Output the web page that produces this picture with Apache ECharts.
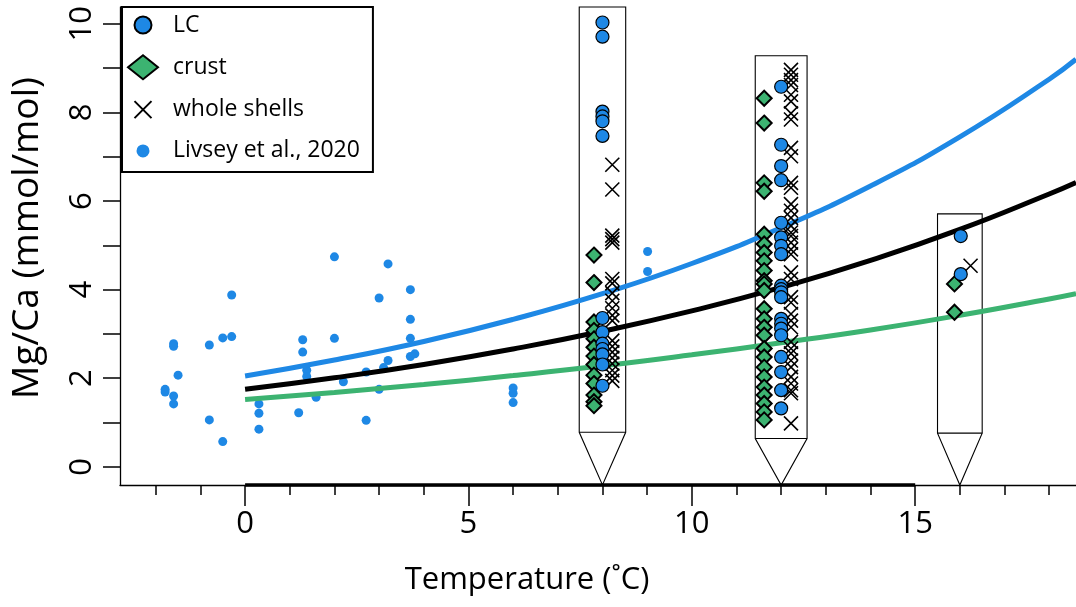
<!DOCTYPE html>
<html><head><meta charset="utf-8">
<script src="https://cdn.jsdelivr.net/npm/echarts@6/dist/echarts.min.js"></script>
<style>html,body{margin:0;padding:0;background:#fff}#c{width:1076px;height:607px}</style>
</head><body><div id="c"></div>
<script>
// ---- fitted curves ----
const curveT = [0, 2, 4, 6, 8, 10, 12, 14, 16, 18, 18.6];
const curveBlue = [2.05, 2.41, 2.83, 3.33, 3.91, 4.59, 5.40, 6.34, 7.45, 8.75, 9.20];
const curveBlack = [1.75, 2.01, 2.31, 2.66, 3.06, 3.52, 4.05, 4.66, 5.36, 6.16, 6.42];
const curveGreen = [1.52, 1.68, 1.86, 2.06, 2.28, 2.53, 2.80, 3.09, 3.42, 3.79, 3.91];

// ---- Livsey et al., 2020 ----
const livseyT = [-0.30,-1.60,-1.60,-0.80,-0.50,-0.30,-1.50,-1.79,-1.79,-1.60,-1.60,-0.80,-0.50,0.31,0.31,0.31,1.20,1.29,1.29,1.38,1.38,1.59,2.00,2.00,2.20,2.71,2.71,3.00,3.00,3.20,3.10,3.20,3.70,3.70,3.70,3.70,3.80,6.00,6.00,6.00,9.01,9.01];
const livseyV = [3.88,2.78,2.72,2.75,2.91,2.94,2.07,1.75,1.69,1.60,1.42,1.06,0.57,1.42,1.21,0.85,1.22,2.87,2.59,2.18,2.04,1.57,4.74,2.90,1.92,2.14,1.05,3.81,1.75,4.58,2.24,2.40,4.00,3.33,2.90,2.49,2.55,1.78,1.66,1.45,4.86,4.41];

// ---- culture temperatures (plotted x of each group) ----
const lcX = [8.0, 12.0, 16.02];
const crustX = [7.81, 11.62, 15.88];
const shellX = [8.22, 12.22, 16.24];

// ---- LC ----
const lcAt8 = [10.03, 9.71, 8.02, 7.91, 7.80, 7.47, 3.36, 3.04, 2.78, 2.66, 2.54, 2.31, 1.83];
const lcAt12 = [8.58, 7.27, 6.79, 6.47, 5.51, 5.18, 4.99, 4.80, 4.09, 4.01, 3.94, 3.83, 3.34, 3.23, 3.12, 2.97, 2.48, 2.14, 1.73, 1.32];
const lcAt16 = [5.21, 4.35];

// ---- crust ----
const crustAt8 = [4.78, 4.16, 3.27, 3.08, 2.89, 2.70, 2.50, 2.31, 2.07, 1.88, 1.62, 1.47, 1.38];
const crustAt12 = [8.32, 7.76, 6.41, 6.22, 5.25, 5.03, 4.84, 4.65, 4.43, 4.20, 4.13, 3.98, 3.57, 3.34, 3.15, 2.97, 2.67, 2.48, 2.25, 2.03, 1.80, 1.62, 1.43, 1.24, 1.06];
const crustAt16 = [4.13, 3.49];

// ---- whole shells ----
const shellAt8 = [6.82, 6.26, 5.22, 5.14, 5.06, 4.24, 4.14, 3.92, 3.75, 3.58, 3.42, 3.30, 2.85, 2.72, 2.59, 2.46, 2.33, 2.18, 2.06, 1.94];
const shellAt12 = [8.96, 8.85, 8.73, 8.62, 8.40, 8.25, 7.98, 7.84, 7.20, 7.01, 6.41, 6.30, 5.93, 5.78, 5.62, 5.44, 5.29, 5.21, 5.06, 4.91, 4.80, 4.39, 4.24, 3.83, 3.71, 3.45, 3.30, 3.15, 2.82, 2.67, 2.56, 2.40, 2.25, 2.03, 1.88, 1.73, 1.66, 0.98];
const shellAt16 = [4.54];

// ---- pencil-shaped ranges ----
const pencilT = [8, 12, 16];
const pencilTop = [10.38, 9.28, 5.71];
const pencilBottom = [0.78, 0.64, 0.76];
const pencilHalfWidth = [0.52, 0.58, 0.50];

// ---- ticks ----
const xMajorTicks = [0, 5, 10, 15];
const xMinorTicks = [-2,-1,0,1,2,3,4,5,6,7,8,9,10,11,12,13,14,15,16,17,18];
const yTicks = [0,1,2,3,4,5,6,7,8,9,10];
const yLabels = [0,2,4,6,8,10];

const X_MIN = -2.8, X_MAX = 18.6, Y_MIN = -0.41, Y_MAX = 10.38;
const BLUE = '#1e88e5', GREEN = '#3cb371', FONT = 'Open Sans';

function zip(xs, vs) { return vs.map((v, i) => [xs[i], v]); }
function group(xPos, cols) { const out = []; cols.forEach((c, i) => c.forEach(v => out.push([xPos[i], v]))); return out; }

const pencilData = pencilT.map((t, i) => [t, pencilTop[i], pencilBottom[i], pencilHalfWidth[i]]);

const chart = echarts.init(document.getElementById('c'));
const axisFont = { fontFamily: FONT, color: '#000' };
chart.setOption({
  animation: false,
  backgroundColor: '#fff',
  grid: { left: 120, right: 0, top: 7, bottom: 122, containLabel: false },
  legend: {
    data: [
      { name: 'LC', icon: 'path://M0,0ZM24,24ZM12,3.5A8.5,8.5,0,1,1,12,20.5A8.5,8.5,0,1,1,12,3.5Z' },
      { name: 'crust', icon: 'diamond' },
      { name: 'whole shells', icon: 'path://M0,0ZM24,24ZM3.5,3.5L20.5,20.5M20.5,3.5L3.5,20.5' },
      { name: 'Livsey et al., 2020', icon: 'path://M0,0ZM24,24ZM12,5.5A6.5,6.5,0,1,1,12,18.5A6.5,6.5,0,1,1,12,5.5Z' }
    ],
    orient: 'vertical', left: 122, top: 7,
    itemWidth: 30, itemHeight: 24, itemGap: 16.3,
    padding: [5, 13, 9, 5],
    backgroundColor: '#fff', borderColor: '#000', borderWidth: 2, borderRadius: 0,
    textStyle: { fontFamily: FONT, fontSize: 23, color: '#000', lineHeight: 24, padding: [0, 0, 0, 10] },
    selectedMode: false
  },
  xAxis: [
    {
      type: 'value', min: X_MIN, max: X_MAX, position: 'bottom',
      axisLine: { show: true, onZero: false, lineStyle: { color: '#000', width: 1.3 } },
      axisTick: { show: true, customValues: xMajorTicks, length: 21, lineStyle: { color: '#000', width: 1.5 } },
      axisLabel: { customValues: xMajorTicks, fontSize: 31, margin: 24, ...axisFont },
      splitLine: { show: false },
      name: 'Temperature (˚C)', nameLocation: 'middle', nameGap: 80,
      nameTextStyle: { fontSize: 31, padding: [0, 142, 0, 0], ...axisFont }
    },
    {
      type: 'value', min: X_MIN, max: X_MAX, position: 'bottom',
      axisLine: { show: false, onZero: false },
      axisTick: { show: true, customValues: xMinorTicks, length: 10, lineStyle: { color: '#000', width: 1.5 } },
      axisLabel: { show: false },
      splitLine: { show: false }
    }
  ],
  yAxis: {
    type: 'value', min: Y_MIN, max: Y_MAX,
    axisLine: { show: true, onZero: false, lineStyle: { color: '#000', width: 1.3 } },
    axisTick: { show: true, customValues: yTicks, length: 17, lineStyle: { color: '#000', width: 1.5 } },
    axisLabel: { customValues: yLabels, rotate: 90, fontSize: 31, margin: 22, ...axisFont },
    splitLine: { show: false },
    name: 'Mg/Ca (mmol/mol)', nameLocation: 'middle', nameGap: 74,
    nameTextStyle: { fontSize: 37, padding: [0, 0, 0, 16], ...axisFont }
  },
  series: [
    {
      type: 'custom', name: 'pencils', silent: true, z: 1, clip: false,
      data: pencilData,
      renderItem: function (params, api) {
        const t = api.value(0), top = api.value(1), bot = api.value(2), hw = api.value(3);
        const pTL = api.coord([t - hw, top]), pTR = api.coord([t + hw, top]);
        const pBR = api.coord([t + hw, bot]), pBL = api.coord([t - hw, bot]);
        const tip = api.coord([t, Y_MIN]);
        const st = { fill: 'none', stroke: '#000', lineWidth: 1.1 };
        return {
          type: 'group', children: [
            { type: 'polygon', shape: { points: [pTL, pTR, pBR, tip, pBL] }, style: st },
            { type: 'line', shape: { x1: pBL[0], y1: pBL[1], x2: pBR[0], y2: pBR[1] }, style: st }
          ]
        };
      }
    },
    {
      type: 'scatter', name: 'Livsey et al., 2020', z: 2,
      data: zip(livseyT, livseyV), symbol: 'circle', symbolSize: 9,
      itemStyle: { color: BLUE, opacity: 1 }
    },
    {
      type: 'line', name: 'fitGreen', z: 3, silent: true, smooth: true, showSymbol: false,
      data: zip(curveT, curveGreen), lineStyle: { color: GREEN, width: 5 }
    },
    {
      type: 'line', name: 'fitBlack', z: 3, silent: true, smooth: true, showSymbol: false,
      data: zip(curveT, curveBlack), lineStyle: { color: '#000', width: 5 }
    },
    {
      type: 'line', name: 'fitBlue', z: 3, silent: true, smooth: true, showSymbol: false,
      data: zip(curveT, curveBlue), lineStyle: { color: BLUE, width: 5 }
    },
    {
      type: 'scatter', name: 'crust', z: 4,
      data: group(crustX, [crustAt8, crustAt12, crustAt16]), symbol: 'diamond', symbolSize: 15,
      itemStyle: { color: GREEN, borderColor: '#000', borderWidth: 2, opacity: 1 }
    },
    {
      type: 'scatter', name: 'whole shells', z: 5,
      data: group(shellX, [shellAt8, shellAt12, shellAt16]),
      symbol: 'path://M0,0L10,10M10,0L0,10', symbolSize: 14,
      itemStyle: { color: 'rgba(0,0,0,0)', borderColor: '#000', borderWidth: 1.6, opacity: 1 }
    },
    {
      type: 'scatter', name: 'LC', z: 6,
      data: group(lcX, [lcAt8, lcAt12, lcAt16]), symbol: 'circle', symbolSize: 13,
      itemStyle: { color: BLUE, borderColor: '#000', borderWidth: 1.2, opacity: 1 }
    },
    {
      type: 'line', name: 'axisBar', z: 7, silent: true, showSymbol: false, clip: false,
      data: [[xMajorTicks[0], Y_MIN], [xMajorTicks[xMajorTicks.length - 1], Y_MIN]],
      lineStyle: { color: '#000', width: 3.5 }
    }
  ]
});
</script></body></html>
